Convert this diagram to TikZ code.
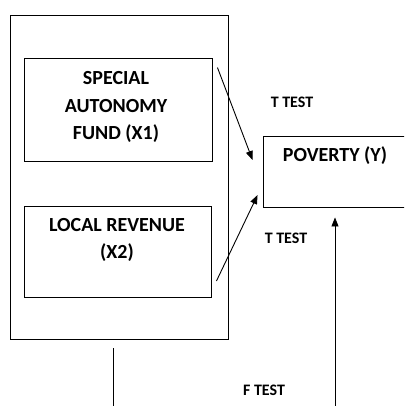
\documentclass[tikz,border=0pt]{standalone}
\usepackage{fontspec}
\setmainfont{Carlito}
\usetikzlibrary{arrows.meta}

\begin{document}
\begin{tikzpicture}[x=1pt, y=-1pt, line width=0.9pt, >={Triangle[length=9pt,width=7pt]},
    box/.style = {draw, rectangle, inner sep=0pt},
    lbl/.style = {font=\bfseries\fontsize{20}{27.5}\selectfont, align=center, inner sep=0pt},
    tst/.style = {font=\bfseries\fontsize{16}{18}\selectfont, inner sep=0pt}]
    \clip (0,0) rectangle (404,406);
    \useasboundingbox (0,0) rectangle (404,406);

    \node[box, minimum width=218, minimum height=324] (grp) at (119,177) {};
    \node[box, minimum width=188, minimum height=103] (x1) at (118,109.5) {};
    \node[box, minimum width=187, minimum height=91] (x2) at (117.5,251.5) {};
    \node[box, minimum width=157, minimum height=71] (y) at (341.5,171.5) {};

    \node[lbl] at (116,107) {SPECIAL\\AUTONOMY\\FUND (X1)};
    \node[lbl] at (117,240) {LOCAL REVENUE\\(X2)};
    \node[lbl] at (335,156) {POVERTY (Y)};

    \node[tst] (t1) at (292,102) {T TEST};
    \node[tst] (t2) at (286,238) {T TEST};
    \node[tst] (f) at (264,390) {F TEST};

    \coordinate (g0) at (113,406);
    \coordinate (y0) at (335,406);

    \draw[->] ([shift={(5,10)}]x1.north east) -- ([shift={(-10,-11.5)}]y.west);
    \draw[->] ([shift={(5,29.5)}]x2.east) -- ([shift={(-5,23.5)}]y.west);
    \draw[->] (y0) -- ([shift={(-6.5,10)}]y.south);
    \draw ([shift={(-6,9)}]grp.south) -- (g0);
\end{tikzpicture}
\end{document}
